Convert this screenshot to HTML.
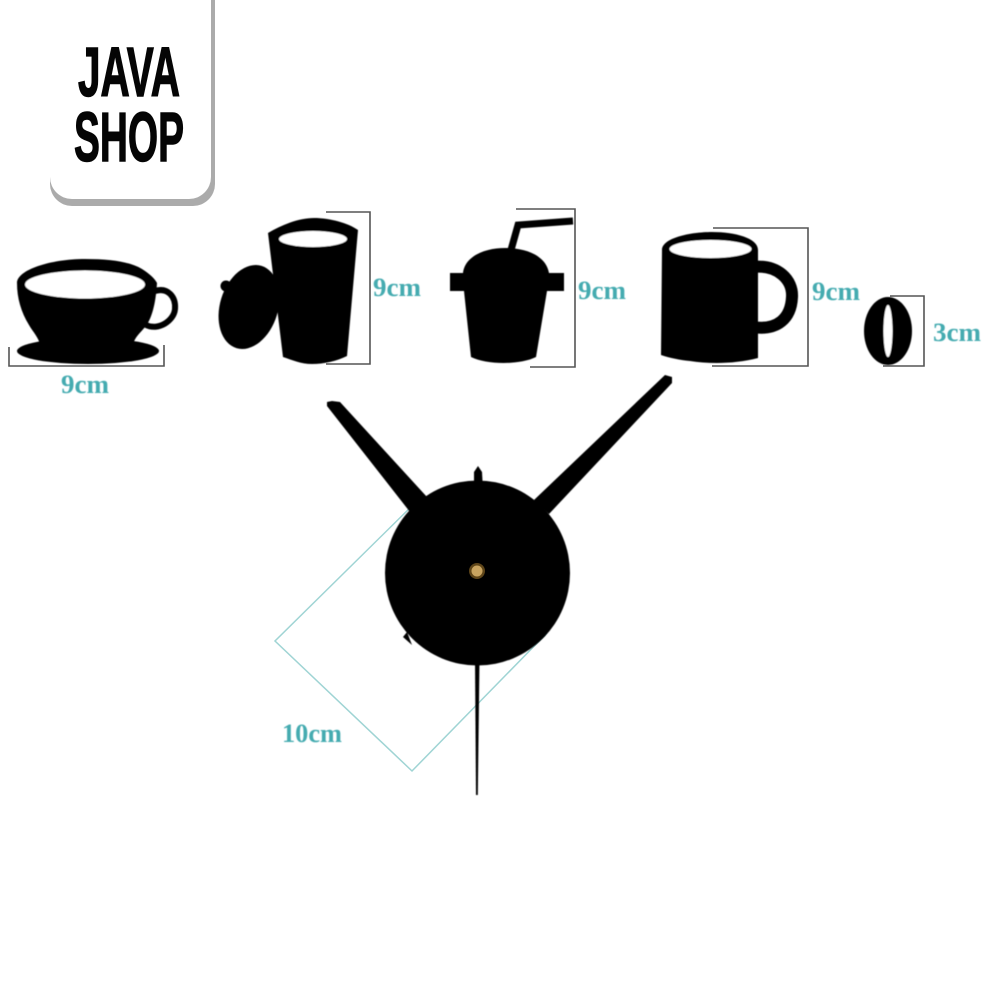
<!DOCTYPE html>
<html><head><meta charset="utf-8"><style>
html,body{margin:0;padding:0;background:#fff}
svg{display:block}
.t{font-family:"Liberation Serif",serif;font-weight:bold;font-size:26px;fill:#45abb0}
.l{font-family:"Liberation Sans",sans-serif;font-weight:bold;font-size:70px;fill:#050505;stroke:#050505;stroke-width:1.4}
.d{fill:none;stroke:#555;stroke-width:1.6}
</style></head><body>
<svg width="1000" height="1000" viewBox="0 0 1000 1000" xmlns="http://www.w3.org/2000/svg">
<defs><filter id="b" x="-10%" y="-10%" width="120%" height="120%"><feGaussianBlur stdDeviation="0.45"/></filter></defs>
<rect width="1000" height="1000" fill="#fff"/>
<!-- badge -->
<rect x="50" y="-40" width="165" height="246" rx="22" fill="#ababab"/>
<rect x="50" y="-40" width="161" height="239" rx="22" fill="#fff"/>
<text class="l" x="78" y="96" textLength="102" lengthAdjust="spacingAndGlyphs">JAVA</text>
<text class="l" x="74" y="161" textLength="110" lengthAdjust="spacingAndGlyphs">SHOP</text>
<!-- dimension lines -->
<path class="d" d="M9 347V366H164V345"/>
<path class="d" d="M326 212H370V364H326"/>
<path class="d" d="M516 209H575V367H530"/>
<path class="d" d="M713 228H808V366H712"/>
<path class="d" d="M890 296H924V366H883"/>
<g filter="url(#b)">
<!-- cup -->
<ellipse cx="88" cy="351" rx="71" ry="13" fill="#050505"/>
<path d="M17 283C17 270 50 259 85 259C112 259 130 262 142 269C150 274 155 279 157 283C156 300 153 316 146 326C140 333 134 338 133 345H40C39 338 33 332 29 325C21 312 17 298 17 283Z" fill="#050505"/>
<path d="M155 291C168 287 176 297 175 309C174 321 158 331 146 325" fill="none" stroke="#050505" stroke-width="6"/>
<ellipse cx="85" cy="284.500" rx="60" ry="14" fill="#fff"/>
<!-- tall cup and lid -->
<g transform="rotate(17 249 307)"><ellipse cx="249" cy="307" rx="29" ry="43" fill="#050505"/></g>
<circle cx="226" cy="286" r="5.500" fill="#050505"/>
<path d="M268 233C282 225 298 218 314 218C330 218 348 223 358 230L347 356C337 361 324 364 312 364C301 364 292 360 283 357Z" fill="#050505"/>
<ellipse cx="313" cy="239" rx="34" ry="8" fill="#fff"/>
<!-- shake -->
<path d="M511 250L518 225L573 221" fill="none" stroke="#050505" stroke-width="7"/>
<path d="M463 273C465 256 485 248 505 248C527 248 546 256 549 273H564V291H547L536 357C520 365 487 365 471 357L464 291H450V273Z" fill="#050505"/>
<!-- mug -->
<path d="M752 267C778 264 793 280 792 297C791 318 778 331 752 327" fill="none" stroke="#050505" stroke-width="12"/>
<path d="M662 250C662 238 690 232 712 232C735 232 758 238 758 250V358C735 364 710 364 690 361C680 360 670 358 661 355Z" fill="#050505"/>
<ellipse cx="710.500" cy="249" rx="41" ry="9" fill="#fff"/>
<!-- bean -->
<ellipse cx="888" cy="331" rx="24" ry="34" fill="#050505"/>
<ellipse cx="888" cy="331" rx="4.500" ry="26" fill="#fff"/>
</g>
<!-- teal rectangle -->
<path d="M417 501L275 641L412 771L547 633" fill="none" stroke="#9fd4d4" stroke-width="1.5"/>
<!-- clock -->
<g filter="url(#b)">
<path d="M407 632L403 637L412 645Z" fill="#020202"/>
<circle cx="477.500" cy="573" r="92.500" fill="#020202"/>
<path d="M327 406V402L332 401L340 402L427 497L410 512Z" fill="#020202"/>
<path d="M665 375L672 377V383L549 514L534 500Z" fill="#020202"/>
<path d="M478 466L482 472L483 490H474L474 472Z" fill="#020202"/>
<path d="M475 660H479.500L477.800 795H476Z" fill="#020202"/>
</g>
<circle cx="477" cy="571" r="8" fill="#5e4519"/>
<circle cx="477" cy="571" r="5.500" fill="#c9a460"/>
<!-- labels -->
<g filter="url(#b)">
<text class="t" x="61" y="393" textLength="48" lengthAdjust="spacingAndGlyphs">9cm</text>
<text class="t" x="373" y="296" textLength="48" lengthAdjust="spacingAndGlyphs">9cm</text>
<text class="t" x="578" y="299" textLength="48" lengthAdjust="spacingAndGlyphs">9cm</text>
<text class="t" x="812" y="300" textLength="48" lengthAdjust="spacingAndGlyphs">9cm</text>
<text class="t" x="933" y="341" textLength="48" lengthAdjust="spacingAndGlyphs">3cm</text>
<text class="t" x="282" y="742" textLength="60" lengthAdjust="spacingAndGlyphs">10cm</text>
</g>
</svg>
</body></html>
